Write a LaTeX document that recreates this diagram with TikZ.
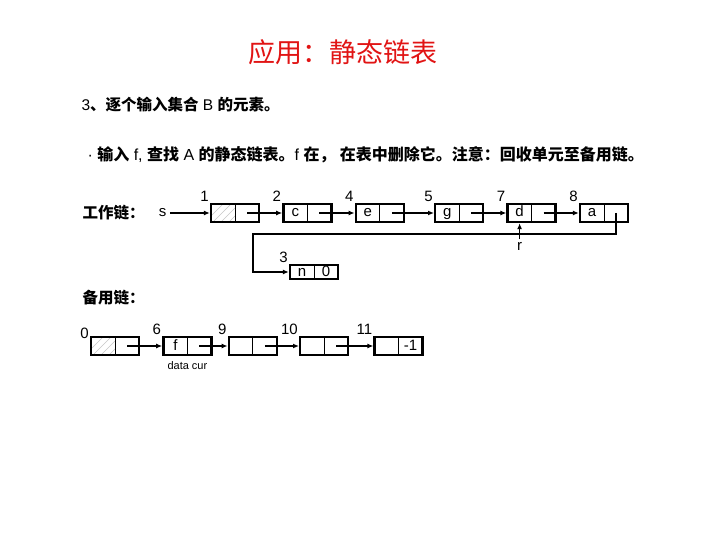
\documentclass[tikz,border=0pt]{standalone}
\usepackage{fontspec}
\setmainfont{Liberation Sans}
\newfontfamily\cjk{Noto Sans CJK SC}
\usetikzlibrary{positioning, arrows.meta}
\definecolor{titlered}{RGB}{225,20,20}
\newcommand{\zh}[1]{{\cjk\bfseries #1}}
\newcommand{\cellpair}[2]{\makebox[24pt]{#1}\makebox[24pt]{#2}}

\begin{document}
\begin{tikzpicture}[x=1pt, y=-1pt, node distance=22pt,
    every node/.style={font=\fontsize{15}{17}\selectfont},
    cell/.style={draw, line width=2.4pt, minimum width=48pt, minimum height=18pt, inner sep=0pt,
      text height=10pt, text depth=2pt,
      path picture={\draw[line width=0.8pt] (path picture bounding box.north) -- (path picture bounding box.south);}},
    headcell/.style={cell, path picture={
      \begin{scope}
        \clip (path picture bounding box.south west) rectangle (path picture bounding box.north);
        \foreach \o in {-6,2,10,18}
          \draw[gray!45, line width=0.5pt] ([xshift=\o pt]path picture bounding box.south west) -- ++(20pt,20pt);
      \end{scope}
      \draw[line width=0.8pt] (path picture bounding box.north) -- (path picture bounding box.south);}},
    idx/.style={inner sep=1pt},
    arr/.style={-{Latex[length=6pt,width=5pt]}, line width=1.2pt}]
  \useasboundingbox (0,0) rectangle (720,540);

  % heading and text
  \node[font=\fontsize{27}{30}\selectfont\cjk, text=titlered] (title) at (343,52) {应用：静态链表};
  \node[anchor=west, font=\fontsize{15.5}{18}\selectfont] (step) at (78,105) {3\zh{、逐个输入集合} B \zh{的元素。}};
  \node[anchor=west, font=\fontsize{16}{18}\selectfont] (note) at (84,155)
    {· \zh{输入} f, \zh{查找} A \zh{的静态链表。}f \zh{在，} \zh{在表中删除它。注意：回收单元至备用链。}};

  % working chain
  \node[anchor=west, font=\fontsize{15.5}{18}\selectfont] (work) at (79,213) {\zh{工作链：}};
  \node[headcell, label={[idx]north west:1}] (c1) at (235,213) {};
  \node[cell, label={[idx]north west:2}] (c2) [right=of c1] {\cellpair{c}{}};
  \node[cell, label={[idx]north west:4}] (c4) [right=of c2] {\cellpair{e}{}};
  \node[cell, label={[idx]north west:5}] (c5) [right=29pt of c4] {\cellpair{g}{}};
  \node[cell, label={[idx]north west:7}] (c7) [right=of c5] {\cellpair{d}{}};
  \node[cell, label={[idx]north west:8}] (c8) [right=of c7] {\cellpair{a}{}};
  \node (s) [left=40pt of c1] {s};
  \node (r) [below=16pt of c7.south, xshift=-12pt] {r};
  \node[cell, minimum height=14pt, label={[idx]north west:3}] (n3) at (314,272) {\cellpair{n}{0}};
  \coordinate (turn) at (253,234);

  \draw[arr] (s) -- (c1);
  \foreach \a/\b in {c1/c2, c2/c4, c4/c5, c5/c7, c7/c8}
    \draw[arr] ([xshift=12pt]\a.center) -- (\b);
  \draw[arr] ([xshift=12pt]c8.center) |- (turn) |- (n3);
  \draw[arr] (r) -- (r |- c7.south);

  % spare chain
  \node[anchor=west, font=\fontsize{15.5}{18}\selectfont] (spare) at (79,298) {\zh{备用链：}};
  \node[headcell, label={[idx, yshift=-4pt]north west:0}] (f0) at (115,346) {};
  \node[cell, label={[idx]north west:6}] (f6) [right=of f0] {\cellpair{f}{}};
  \node[cell, label={[idx]north west:9}] (f9) [right=15pt of f6] {};
  \node[cell, label={[idx]north west:10}] (f10) [right=21pt of f9] {};
  \node[cell, label={[idx]north west:11}] (f11) [right=24pt of f10] {\cellpair{}{-1}};
  \node[font=\fontsize{11}{12}\selectfont] (cur) [below=2pt of f6] {data cur};

  \foreach \a/\b in {f0/f6, f6/f9, f9/f10, f10/f11}
    \draw[arr] ([xshift=12pt]\a.center) -- (\b);
\end{tikzpicture}
\end{document}
